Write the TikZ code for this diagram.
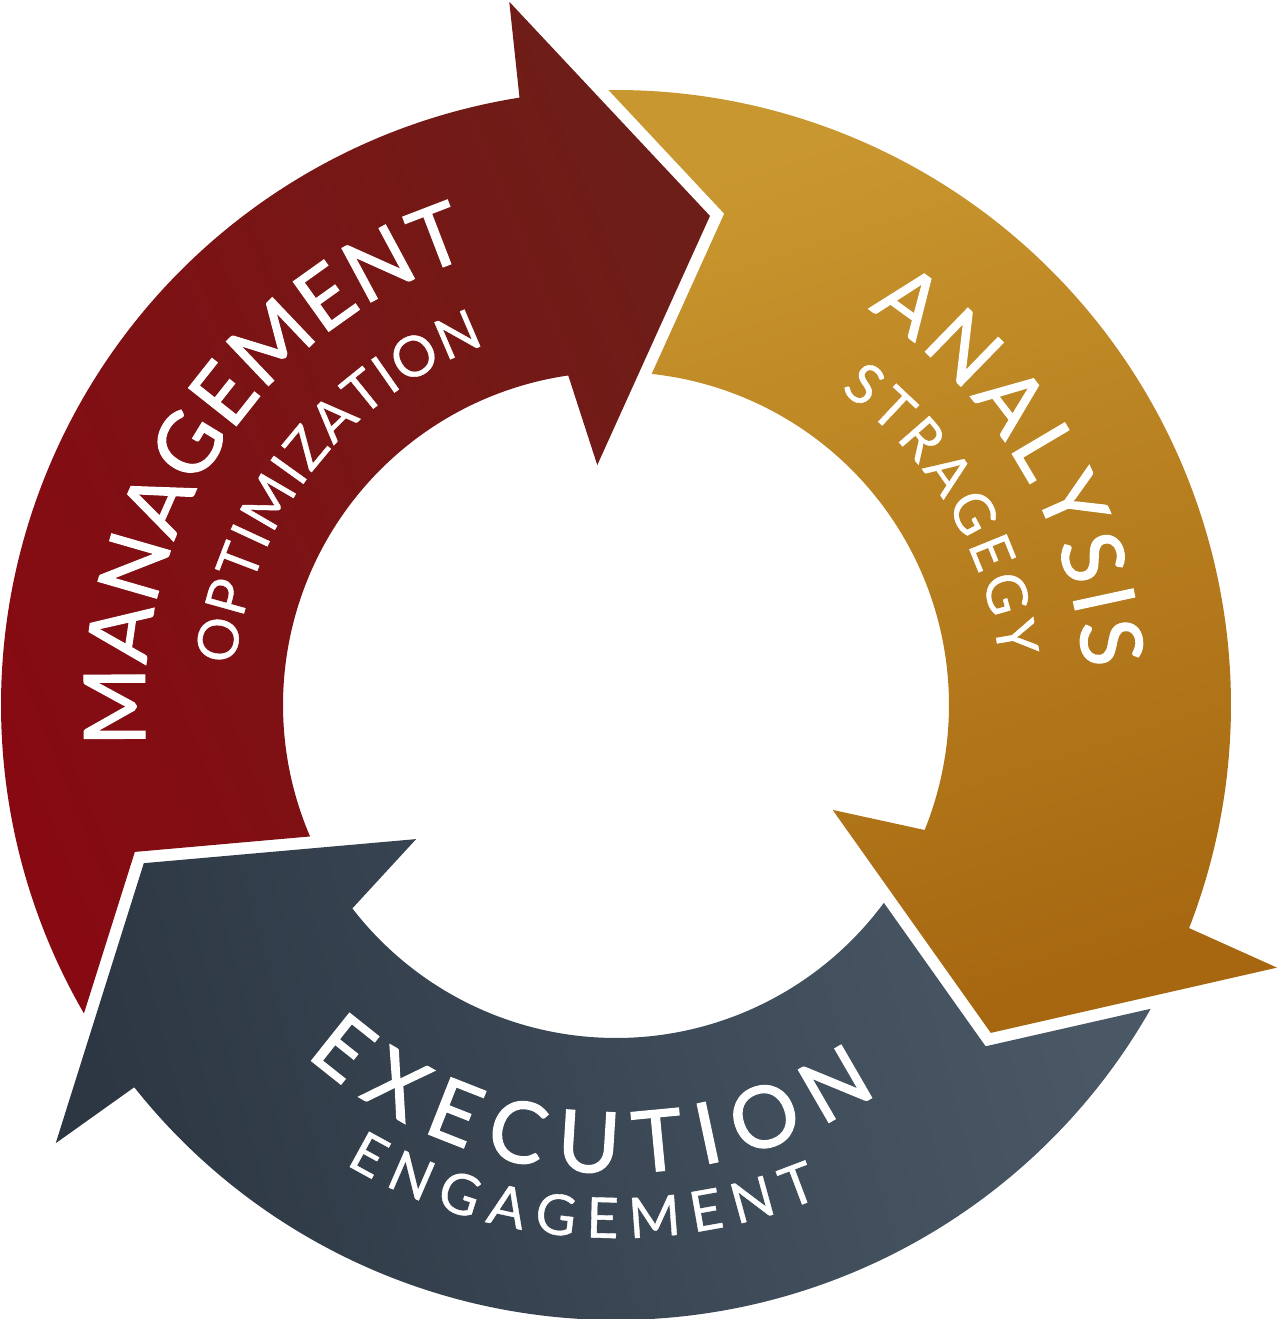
\documentclass[tikz,border=0pt]{standalone}
\usepackage{fontspec}
\newfontfamily\labfontbig{Lato}[FakeBold=1.4]
\newfontfamily\labfontthick{Lato}[FakeBold=0.7]
\usetikzlibrary{decorations.text}
\definecolor{redA}{HTML}{870A12}
\definecolor{redB}{HTML}{6D1E18}
\definecolor{goldA}{HTML}{C9972F}
\definecolor{goldB}{HTML}{A66710}
\definecolor{greyA}{HTML}{4A5866}
\definecolor{greyB}{HTML}{2C3743}
\newcommand\bigfnt{\labfontbig\fontsize{85pt}{90pt}\selectfont}
\newcommand\smallfnt{\labfontthick\fontsize{56pt}{60pt}\selectfont}
% #1 options, #2 rotation of this head, #3 rotation of the head that cuts the tail
\newcommand\cyclearrow[3]{%
  \path[#1] ({99.03+#2}:615pt)
    arc[start angle={99.03+#2}, end angle={90.70+#3}, radius=615pt]
    -- ({77.58+#3}:503.1pt) -- ({83.85+#3}:333pt)
    arc[start angle={83.85+#3}, end angle={98.25+#2}, radius=333pt]
    -- ({94.46+#2}:240.7pt) -- ({79.12+#2}:498pt) -- ({98.63+#2}:711.3pt) -- cycle;}
\tikzset{
  redfill/.style={shading=axis, bottom color=redA, middle color=redA, top color=redB, shading angle=-68},
  goldfill/.style={shading=axis, bottom color=goldB, middle color=goldA!96!goldB, top color=goldA, shading angle=18},
  greyfill/.style={shading=axis, bottom color=greyB, middle color=greyA, top color=greyA, shading angle=-75},
  ringtext/.style={decorate, decoration={text along path, text={#1}, text align={fit to path}, text color=white}}
}
\begin{document}
\begin{tikzpicture}
\useasboundingbox (-616pt,-614pt) rectangle (664pt,705pt);
% arrows
\cyclearrow{goldfill}{-120.3}{0}
\cyclearrow{redfill}{0}{119.4}
\cyclearrow{greyfill}{119.4}{239.7}
% labels
\path[ringtext={|\bigfnt|MANAGEMENT}] (185:471pt) arc[start angle=185, end angle=108, radius=471pt];
\path[ringtext={|\smallfnt|OPTIMIZATION}] (174:383pt) arc[start angle=174, end angle=110, radius=383pt];
\path[ringtext={|\bigfnt|ANALYSIS}] (57.5:469pt) arc[start angle=57.5, end angle=4.4, radius=469pt];
\path[ringtext={|\smallfnt|STRAGEGY}] (54.5:386pt) arc[start angle=54.5, end angle=7, radius=386pt];
\path[ringtext={|\bigfnt|EXECUTION}] (228.5:468pt) arc[start angle=228.5, end angle=304, radius=468pt];
\path[ringtext={|\smallfnt|ENGAGEMENT}] (239.5:533pt) arc[start angle=239.5, end angle=292.5, radius=533pt];
\end{tikzpicture}
\end{document}
